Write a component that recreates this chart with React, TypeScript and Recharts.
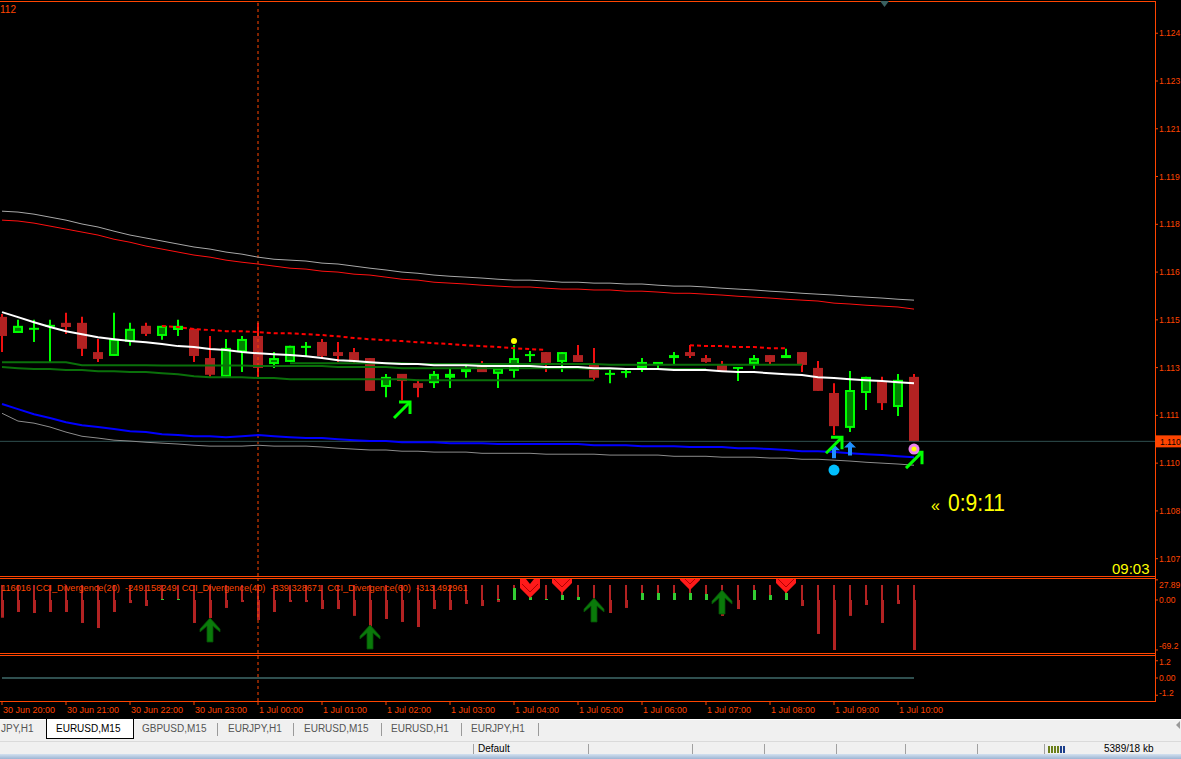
import React from 'react';
import { ComposedChart, Bar, Line, Scatter, XAxis, YAxis, ReferenceLine } from 'recharts';

const ORANGE = '#FF4500';
const FONT = '"Liberation Sans", Arial, sans-serif';
const W = 1181;
const X_DOMAIN: [number, number] = [-0.125, 72.0625];
const PRICE_DOMAIN: [number, number] = [1.10642, 1.12568];
const CCI_DOMAIN: [number, number] = [-73.36, 29.07];
const SIG_DOMAIN: [number, number] = [-1.6, 1.6];

// ---- time axis ----
const hourTicks = [0, 4, 8, 12, 16, 20, 24, 28, 32, 36, 40, 44, 48, 52, 56];
const timeLabels = ['30 Jun 20:00', '30 Jun 21:00', '30 Jun 22:00', '30 Jun 23:00', '1 Jul 00:00', '1 Jul 01:00', '1 Jul 02:00', '1 Jul 03:00', '1 Jul 04:00', '1 Jul 05:00', '1 Jul 06:00', '1 Jul 07:00', '1 Jul 08:00', '1 Jul 09:00', '1 Jul 10:00'];
const separatorIndex = 16;

// ---- price axis ----
const priceTicks = [1.1246, 1.123, 1.1214, 1.1198, 1.1182, 1.1166, 1.115, 1.1134, 1.1118, 1.1102, 1.1086, 1.107];
const currentPrice = 1.11093;

// ---- candles (EURUSD M15) ----
const open = [1.11510, 1.11456, 1.11470, 1.11480, 1.11490, 1.11490, 1.11392, 1.11379, 1.11426, 1.11480,
  1.11446, 1.11466, 1.11470, 1.11372, 1.11309, 1.11392, 1.11446, 1.11352, 1.11359, 1.11406,
  1.11426, 1.11392, 1.11392, 1.11372, 1.11275, 1.11319, 1.11288, 1.11288, 1.11306, 1.11325,
  1.11352, 1.11319, 1.11329, 1.11382, 1.11392, 1.11359, 1.11382, 1.11349, 1.11319, 1.11325,
  1.11339, 1.11352, 1.11372, 1.11392, 1.11372, 1.11352, 1.11339, 1.11352, 1.11382, 1.11372,
  1.11392, 1.11339, 1.11255, 1.11138, 1.11255, 1.11295, 1.11208, 1.11309];
const high = [1.11520, 1.11500, 1.11500, 1.11500, 1.11524, 1.11510, 1.11436, 1.11524, 1.11490, 1.11490,
  1.11480, 1.11500, 1.11470, 1.11446, 1.11436, 1.11446, 1.11490, 1.11392, 1.11413, 1.11426,
  1.11436, 1.11426, 1.11406, 1.11372, 1.11319, 1.11319, 1.11299, 1.11329, 1.11336, 1.11352,
  1.11362, 1.11339, 1.11416, 1.11396, 1.11392, 1.11392, 1.11416, 1.11406, 1.11336, 1.11336,
  1.11372, 1.11359, 1.11392, 1.11416, 1.11382, 1.11362, 1.11339, 1.11382, 1.11382, 1.11403,
  1.11392, 1.11362, 1.11288, 1.11329, 1.11309, 1.11309, 1.11319, 1.11319];
const low = [1.11392, 1.11456, 1.11426, 1.11359, 1.11453, 1.11379, 1.11359, 1.11379, 1.11413, 1.11446,
  1.11433, 1.11446, 1.11359, 1.11309, 1.11309, 1.11325, 1.11309, 1.11339, 1.11359, 1.11379,
  1.11372, 1.11359, 1.11352, 1.11262, 1.11241, 1.11231, 1.11241, 1.11272, 1.11272, 1.11306,
  1.11325, 1.11272, 1.11306, 1.11359, 1.11325, 1.11325, 1.11359, 1.11299, 1.11288, 1.11306,
  1.11325, 1.11339, 1.11352, 1.11372, 1.11356, 1.11329, 1.11295, 1.11336, 1.11352, 1.11372,
  1.11325, 1.11262, 1.11114, 1.11124, 1.11198, 1.11198, 1.11178, 1.11093];
const close = [1.11446, 1.11480, 1.11470, 1.11480, 1.11476, 1.11403, 1.11369, 1.11436, 1.11470, 1.11453,
  1.11480, 1.11480, 1.11379, 1.11316, 1.11406, 1.11436, 1.11339, 1.11372, 1.11413, 1.11413,
  1.11379, 1.11379, 1.11359, 1.11262, 1.11309, 1.11295, 1.11272, 1.11319, 1.11319, 1.11339,
  1.11325, 1.11339, 1.11372, 1.11382, 1.11356, 1.11392, 1.11359, 1.11306, 1.11319, 1.11325,
  1.11359, 1.11359, 1.11382, 1.11379, 1.11359, 1.11329, 1.11339, 1.11372, 1.11359, 1.11382,
  1.11349, 1.11262, 1.11144, 1.11265, 1.11309, 1.11221, 1.11299, 1.11093];

// ---- overlay lines ----
const upperGray = [1.11864, 1.11861, 1.11854, 1.11844, 1.11834, 1.11821, 1.11811, 1.11797, 1.11784, 1.11774,
  1.11764, 1.11754, 1.11744, 1.11737, 1.11727, 1.11720, 1.11710, 1.11703, 1.11700, 1.11697,
  1.11690, 1.11687, 1.11680, 1.11673, 1.11667, 1.11660, 1.11656, 1.11650, 1.11646, 1.11643,
  1.11640, 1.11636, 1.11633, 1.11633, 1.11630, 1.11626, 1.11626, 1.11623, 1.11623, 1.11620,
  1.11620, 1.11616, 1.11613, 1.11613, 1.11610, 1.11606, 1.11603, 1.11600, 1.11596, 1.11593,
  1.11589, 1.11586, 1.11583, 1.11579, 1.11576, 1.11573, 1.11569, 1.11566];
const upperRed = [1.11834, 1.11831, 1.11824, 1.11814, 1.11804, 1.11794, 1.11784, 1.11770, 1.11760, 1.11747,
  1.11737, 1.11727, 1.11717, 1.11710, 1.11700, 1.11693, 1.11687, 1.11680, 1.11673, 1.11670,
  1.11663, 1.11660, 1.11653, 1.11650, 1.11643, 1.11636, 1.11633, 1.11626, 1.11623, 1.11620,
  1.11616, 1.11613, 1.11610, 1.11610, 1.11606, 1.11603, 1.11603, 1.11600, 1.11600, 1.11596,
  1.11596, 1.11593, 1.11589, 1.11589, 1.11586, 1.11583, 1.11579, 1.11576, 1.11573, 1.11569,
  1.11566, 1.11563, 1.11556, 1.11553, 1.11549, 1.11546, 1.11543, 1.11536];
const lowerBlue = [1.11218, 1.11201, 1.11184, 1.11171, 1.11157, 1.11147, 1.11141, 1.11134, 1.11127, 1.11124,
  1.11117, 1.11114, 1.11110, 1.11110, 1.11107, 1.11110, 1.11114, 1.11110, 1.11107, 1.11104,
  1.11104, 1.11100, 1.11097, 1.11094, 1.11094, 1.11090, 1.11090, 1.11090, 1.11087, 1.11087,
  1.11087, 1.11084, 1.11084, 1.11084, 1.11084, 1.11084, 1.11084, 1.11080, 1.11080, 1.11080,
  1.11077, 1.11077, 1.11077, 1.11074, 1.11074, 1.11074, 1.11070, 1.11070, 1.11067, 1.11064,
  1.11060, 1.11060, 1.11057, 1.11053, 1.11050, 1.11047, 1.11043, 1.11040];
const lowerGray = [1.11187, 1.11161, 1.11154, 1.11141, 1.11124, 1.11110, 1.11104, 1.11097, 1.11094, 1.11090,
  1.11087, 1.11084, 1.11080, 1.11077, 1.11077, 1.11077, 1.11080, 1.11077, 1.11077, 1.11077,
  1.11074, 1.11070, 1.11067, 1.11064, 1.11064, 1.11060, 1.11060, 1.11057, 1.11057, 1.11057,
  1.11053, 1.11053, 1.11053, 1.11053, 1.11050, 1.11050, 1.11050, 1.11050, 1.11047, 1.11047,
  1.11047, 1.11047, 1.11043, 1.11043, 1.11043, 1.11040, 1.11040, 1.11040, 1.11037, 1.11037,
  1.11033, 1.11033, 1.11030, 1.11027, 1.11023, 1.11020, 1.11017, 1.11013];
const maWhite = [1.11526, 1.11509, 1.11492, 1.11476, 1.11462, 1.11452, 1.11442, 1.11435, 1.11429, 1.11425,
  1.11419, 1.11412, 1.11409, 1.11402, 1.11399, 1.11392, 1.11388, 1.11385, 1.11382, 1.11378,
  1.11372, 1.11365, 1.11362, 1.11358, 1.11355, 1.11352, 1.11352, 1.11348, 1.11348, 1.11348,
  1.11345, 1.11345, 1.11345, 1.11345, 1.11342, 1.11342, 1.11342, 1.11338, 1.11338, 1.11335,
  1.11335, 1.11335, 1.11332, 1.11332, 1.11332, 1.11328, 1.11325, 1.11325, 1.11321, 1.11318,
  1.11315, 1.11308, 1.11305, 1.11301, 1.11298, 1.11295, 1.11291, 1.11288];
const dashRed = [null, null, null, null, null, null, null, null, null, null,
  1.11479, 1.11476, 1.11469, 1.11466, 1.11462, 1.11462, 1.11459, 1.11455, 1.11455, 1.11452,
  1.11449, 1.11445, 1.11439, 1.11435, 1.11432, 1.11429, 1.11425, 1.11422, 1.11419, 1.11415,
  1.11412, 1.11409, 1.11405, 1.11402, 1.11399, null, null, null, null, null,
  null, null, null, 1.11415, 1.11412, 1.11412, 1.11409, 1.11409, 1.11405, 1.11405,
  null, null, null, null, null, null, null, null];
const green1 = [null, null, null, null, null, null, null, null, null, null,
  null, null, null, null, null, null, null, null, 1.11355, 1.11355,
  1.11355, 1.11355, 1.11355, 1.11355, 1.11355, 1.11355, 1.11352, 1.11352, 1.11352, 1.11352,
  1.11352, 1.11352, 1.11352, 1.11352, 1.11352, 1.11352, 1.11352, 1.11352, 1.11350, 1.11350,
  1.11350, 1.11350, 1.11350, 1.11350, 1.11350, 1.11350, 1.11350, 1.11350, 1.11350, 1.11350,
  1.11350, null, null, null, null, null, null, null];
const green2 = [1.11358, 1.11358, 1.11358, 1.11358, 1.11358, 1.11348, 1.11348, 1.11348, 1.11348, 1.11348,
  1.11347, 1.11347, 1.11347, 1.11347, 1.11347, 1.11347, 1.11345, 1.11345, 1.11345, 1.11345,
  1.11345, 1.11342, 1.11342, 1.11342, 1.11342, 1.11338, 1.11338, 1.11338, 1.11338, 1.11338,
  1.11338, 1.11338, 1.11338, 1.11338, 1.11338, 1.11338, 1.11338, 1.11335, 1.11335, 1.11335,
  1.11335, 1.11335, 1.11335, 1.11335, 1.11335, null, null, null, null, null,
  null, null, null, null, null, null, null, null];
const green3 = [1.11342, 1.11338, 1.11335, 1.11335, 1.11332, 1.11332, 1.11328, 1.11328, 1.11325, 1.11325,
  1.11321, 1.11318, 1.11311, 1.11308, 1.11308, 1.11308, 1.11305, 1.11305, 1.11301, 1.11301,
  1.11301, 1.11301, 1.11301, 1.11301, 1.11301, 1.11301, 1.11298, 1.11298, 1.11298, 1.11298,
  1.11298, 1.11298, 1.11298, 1.11298, 1.11298, 1.11298, 1.11298, 1.11298, null, null,
  null, null, null, null, null, null, null, null, null, null,
  null, null, null, null, null, null, null, null];

// ---- main-chart signal markers ----
const limeArrows = [{ i: 25, p: 1.11198 }, { i: 52, p: 1.11080 }, { i: 57, p: 1.11030 }];
const blueArrows = [{ i: 52, p: 1.11060 }, { i: 53, p: 1.11069 }];
const cyanDots = [{ i: 52, p: 1.10997 }];
const violetDots = [{ i: 57, p: 1.11067 }];
const yellowDots = [{ i: 32, p: 1.11429 }];

// ---- CCI_Divergence sub-window ----
const cciTop = [20.8, 20.8, 20.8, 20.8, 20.8, 20.8, 20.8, 20.8, 20.8, 20.8,
  20.8, 20.8, 20.8, 20.8, 20.8, 20.8, 20.8, 20.8, 20.8, 20.8,
  20.8, 20.8, 20.8, 20.8, 20.8, 20.8, 20.8, 20.8, 20.8, 20.8,
  20.8, 20.8, 20.8, 20.8, 20.8, 20.8, 20.8, 20.8, 20.8, 20.8,
  20.8, 20.8, 20.8, 20.8, 20.8, 20.8, 20.8, 20.8, 20.8, 20.8,
  20.8, 20.8, 20.8, 20.8, 20.8, 20.8, 20.8, 20.8];
const cciNeg = [-24.5, -16.6, -18, -16.6, -16.6, -31.8, -38.8, -16.6, -4.2, -8.3,
  0, 0, -31.8, -24.9, -11, -2.8, -27.7, -16.6, -2.8, -2.8,
  -12.5, -12.5, -22, -37.4, -26.3, -30.4, -37.4, -12.5, -13.8, -5.5,
  -8.3, -2.8, 0, 0, 0, 0, 0, -9.7, -18, -11,
  0, 0, 0, 0, 0, -22, -12.5, 0, 0, 0,
  -8.3, -47, -69.2, -22, -6.9, -31.8, -5.5, -69.2];
const cciPos = [0, 0, 0, 0, 0, 0, 0, 0, 0, 0,
  1.4, 1.4, 0, 0, 0, 0, 0, 0, 0, 0,
  0, 0, 0, 0, 0, 0, 0, 0, 0, 0,
  0, 1.4, 16.6, 4.2, 1.4, 6.9, 4.2, 0, 0, 0,
  9.7, 9.7, 9.7, 9.7, 8.3, 0, 0, 13.8, 6.9, 9.7,
  0, 0, 0, 0, 0, 0, 0, 0];
const cciUpArrows = [{ i: 13, v: -24.9 }, { i: 23, v: -34.6 }, { i: 37, v: 2.8 }, { i: 45, v: 13.8 }];
const cciDownMarks = [{ i: 33, v: 2.8 }, { i: 35, v: 9.7 }, { i: 43, v: 13.8 }, { i: 49, v: 9.7 }];
const cciTicks = [27.89, 0, -69.2];
const cciTickLabels = ['27.89', '0.00', '-69.2'];
const cciLegend = '116016  CCI_Divergence(20)  -249.158249  CCI_Divergence(40)  -339.328671  CCI_Divergence(60)  -313.492961';

// ---- third sub-window ----
const signalLine = [0, 0, 0, 0, 0, 0, 0, 0, 0, 0, 0, 0, 0, 0, 0, 0, 0, 0, 0, 0,
  0, 0, 0, 0, 0, 0, 0, 0, 0, 0, 0, 0, 0, 0, 0, 0, 0, 0, 0, 0,
  0, 0, 0, 0, 0, 0, 0, 0, 0, 0, 0, 0, 0, 0, 0, 0, 0, 0];
const sigTicks = [1.2, 0, -1.2];
const sigTickLabels = ['1.2', '0.00', '-1.2'];

// ---- terminal tabs ----
const tabs = [
  { label: 'JPY,H1', x: 1, active: false },
  { label: 'EURUSD,M15', x: 56, active: true },
  { label: 'GBPUSD,M15', x: 142, active: false },
  { label: 'EURJPY,H1', x: 228, active: false },
  { label: 'EURUSD,M15', x: 304, active: false },
  { label: 'EURUSD,H1', x: 391, active: false },
  { label: 'EURJPY,H1', x: 471, active: false },
];
const tabSeparators = [217, 293, 381, 461, 538];
const statusSeparators = [473, 588, 692, 764, 836, 905, 977, 1044];

// visible part of a 5-digit price label in the cut-off price scale
const scaleLabel = (v: number) => v.toFixed(5).slice(0, 5);

// ================= shapes =================
function CandleShape(props: any) {
  const { x, y, width, height, payload } = props;
  if (!payload) return null;
  const { open: o, close: c, high: h, low: l } = payload;
  const top = Math.min(y, y + height);
  const hh = Math.abs(height);
  const k = h - l > 0 ? hh / (h - l) : 0;
  const py = (v: number) => top + (h - v) * k;
  const cx = Math.round(x + width / 2);
  const bTop = py(Math.max(o, c));
  const bBot = py(Math.min(o, c));
  if (c > o) {
    return (
      <g>
        <line x1={cx} x2={cx} y1={top} y2={top + hh} stroke="#00FF00" strokeWidth={2} />
        <rect x={cx - 4} y={bTop + 1} width={8} height={Math.max(bBot - bTop - 2, 0)} fill="#008000" stroke="#00FF00" strokeWidth={2} />
      </g>
    );
  }
  if (c === o) {
    return (
      <g>
        <line x1={cx} x2={cx} y1={top} y2={top + hh} stroke="#00FF00" strokeWidth={2} />
        <line x1={cx - 5} x2={cx + 5} y1={bTop} y2={bTop} stroke="#00FF00" strokeWidth={2} />
      </g>
    );
  }
  return (
    <g>
      <line x1={cx} x2={cx} y1={top} y2={top + hh} stroke="#F01010" strokeWidth={2} />
      <rect x={cx - 5} y={bTop} width={10} height={Math.max(bBot - bTop, 1)} fill="#B22222" />
    </g>
  );
}

function CciShape(props: any) {
  const { x, y, width, height, payload } = props;
  if (!payload) return null;
  const top = Math.min(y, y + height);
  const hh = Math.abs(height);
  const span = payload.top - payload.neg;
  const k = span > 0 ? hh / span : 0;
  const y0 = top + payload.top * k;
  const cx = Math.round(x + width / 2);
  return (
    <g>
      <rect x={cx - 1} y={top} width={2} height={payload.top * k} fill="#B22222" />
      {payload.neg < 0 && <rect x={cx - 1} y={y0} width={3} height={-payload.neg * k} fill="#B22222" />}
      {payload.pos > 0 && <rect x={cx - 1} y={y0 - payload.pos * k} width={3} height={payload.pos * k} fill="#33CC33" />}
    </g>
  );
}

const LimeArrow = (p: any) => {
  const { cx, cy } = p;
  return (
    <g fill="none" stroke="#00FF00" strokeWidth={3}>
      <path d={`M${cx - 8},${cy + 8} L${cx + 7},${cy - 7}`} />
      <path d={`M${cx - 3},${cy - 8} L${cx + 8},${cy - 8} L${cx + 8},${cy + 4}`} />
    </g>
  );
};
const BlueArrow = (p: any) => {
  const { cx, cy } = p;
  return <path d={`M${cx},${cy - 7} L${cx + 6},${cy - 1} L${cx + 2},${cy - 1} L${cx + 2},${cy + 7} L${cx - 2},${cy + 7} L${cx - 2},${cy - 1} L${cx - 6},${cy - 1} Z`} fill="#1E90FF" />;
};
const CyanDot = (p: any) => <circle cx={p.cx} cy={p.cy} r={5.5} fill="#00BFFF" />;
const VioletDot = (p: any) => (
  <g>
    <circle cx={p.cx} cy={p.cy} r={5.5} fill="#EE82EE" />
    <circle cx={p.cx} cy={p.cy} r={2.5} fill="#FFFF00" />
  </g>
);
const YellowDot = (p: any) => <circle cx={p.cx} cy={p.cy} r={3} fill="#FFFF00" />;

const CciUpArrow = (p: any) => {
  const { cx, cy } = p;
  return <path d={`M${cx},${cy} L${cx + 10},${cy + 11} L${cx + 10},${cy + 14} L${cx + 3},${cy + 8} L${cx + 3},${cy + 24} L${cx - 3},${cy + 24} L${cx - 3},${cy + 8} L${cx - 10},${cy + 14} L${cx - 10},${cy + 11} Z`} fill="#0A7A0A" stroke="#065006" strokeWidth={0.8} />;
};
const CciDownMark = (p: any) => {
  const { cx, cy } = p;
  return (
    <g>
      <path d={`M${cx},${cy} L${cx - 10},${cy - 10} L${cx - 10},${cy - 19} L${cx - 4},${cy - 19} L${cx},${cy - 14} L${cx + 4},${cy - 19} L${cx + 10},${cy - 19} L${cx + 10},${cy - 10} Z`} fill="#FF1A1A" />
      <path d={`M${cx - 8},${cy - 14} L${cx},${cy - 6} L${cx + 8},${cy - 14}`} fill="none" stroke="#B00000" strokeWidth={1} />
    </g>
  );
};

const PriceTag = (props: any) => {
  const vb = props.viewBox || {};
  const x = (vb.x || 0) + (vb.width || 0) + 1;
  const y = vb.y || 0;
  return (
    <g>
      <rect x={x} y={y - 6} width={30} height={12} fill={ORANGE} />
      <text x={x + 4} y={y + 3.5} fontSize={8.5} fontFamily={FONT} fill="#000">{scaleLabel(currentPrice)}</text>
    </g>
  );
};

const TimeTick = (props: any) => {
  const { x, y, payload } = props;
  const idx = hourTicks.indexOf(payload.value);
  return (
    <text x={x + 1} y={y + 6} fill={ORANGE} fontSize={9} fontFamily={FONT} textAnchor="start">
      {timeLabels[idx]}
    </text>
  );
};

const makeSideTick = (ticks: number[], labels: string[], shifts: number[]) => (props: any) => {
  const { x, y, payload } = props;
  const idx = ticks.indexOf(payload.value);
  return (
    <text x={x} y={y + 3 + shifts[idx]} fill={ORANGE} fontSize={8.5} fontFamily={FONT} textAnchor="start">
      {labels[idx]}
    </text>
  );
};
const CciTick = makeSideTick(cciTicks, cciTickLabels, [5, 0, -4]);
const SigTick = makeSideTick(sigTicks, sigTickLabels, [1, 0, -2]);

export default function App() {
  const mainData = open.map((o, i) => ({
    i, open: o, high: high[i], low: low[i], close: close[i],
    ug: upperGray[i], ur: upperRed[i], lb: lowerBlue[i], lg: lowerGray[i],
    ma: maWhite[i], dr: dashRed[i], g1: green1[i], g2: green2[i], g3: green3[i],
  }));
  const cciData = cciNeg.map((n, i) => ({ i, neg: n, top: cciTop[i], pos: cciPos[i] }));
  const sigData = signalLine.map((v, i) => ({ i, v }));

  const line = (key: string, color: string, width = 1, dash?: string) => (
    <Line type="linear" dataKey={key} stroke={color} strokeWidth={width} strokeDasharray={dash} dot={false} activeDot={false} isAnimationActive={false} connectNulls={false} />
  );

  return (
    <div style={{ position: 'absolute', left: 0, top: 0, width: W, height: 759, overflow: 'hidden', background: '#000', fontFamily: FONT }}>
      {/* main price window */}
      <div style={{ position: 'absolute', left: 0, top: 0 }}>
        <ComposedChart width={W} height={578} data={mainData} margin={{ top: 1, right: 0, bottom: 2, left: 0 }}>
          <XAxis type="number" dataKey="i" domain={X_DOMAIN} allowDataOverflow hide />
          <YAxis orientation="right" width={26} domain={PRICE_DOMAIN} allowDataOverflow ticks={priceTicks} interval={0}
            tickFormatter={scaleLabel} tick={{ fill: ORANGE, fontSize: 8.5, fontFamily: FONT }}
            tickLine={{ stroke: ORANGE }} tickSize={3} tickMargin={1} axisLine={false} />
          <ReferenceLine x={separatorIndex} stroke={ORANGE} strokeDasharray="3 3" />
          <ReferenceLine y={currentPrice} stroke="#2F4F4F" label={(p: any) => <PriceTag {...p} />} />
          {line('ug', '#A8A8A8')}
          {line('ur', '#FF1010')}
          {line('lg', '#8C8C8C')}
          {line('lb', '#0000FF', 2)}
          {line('g3', '#0A700A', 2)}
          {line('g2', '#0A700A', 2)}
          {line('g1', '#0A700A', 2)}
          {line('dr', '#FF0000', 2, '4 3')}
          <Bar dataKey={(d: any) => [d.low, d.high]} shape={CandleShape} barSize={10} isAnimationActive={false} />
          {line('ma', '#FFFFFF', 2)}
          <Scatter data={yellowDots} dataKey="p" shape={YellowDot} isAnimationActive={false} />
          <Scatter data={cyanDots} dataKey="p" shape={CyanDot} isAnimationActive={false} />
          <Scatter data={blueArrows} dataKey="p" shape={BlueArrow} isAnimationActive={false} />
          <Scatter data={limeArrows} dataKey="p" shape={LimeArrow} isAnimationActive={false} />
          <Scatter data={violetDots} dataKey="p" shape={VioletDot} isAnimationActive={false} />
        </ComposedChart>
      </div>

      {/* CCI divergence window */}
      <div style={{ position: 'absolute', left: 0, top: 579 }}>
        <ComposedChart width={W} height={74} data={cciData} margin={{ top: 0, right: 0, bottom: 0, left: 0 }}>
          <XAxis type="number" dataKey="i" domain={X_DOMAIN} allowDataOverflow hide />
          <YAxis orientation="right" width={26} domain={CCI_DOMAIN} allowDataOverflow ticks={cciTicks} interval={0}
            tick={<CciTick />} tickLine={{ stroke: ORANGE }} tickSize={3} tickMargin={1} axisLine={false} />
          <ReferenceLine x={separatorIndex} stroke={ORANGE} strokeDasharray="3 3" />
          <Bar dataKey={(d: any) => [d.neg, d.top]} shape={CciShape} barSize={4} isAnimationActive={false} />
          <Scatter data={cciUpArrows} dataKey="v" shape={CciUpArrow} isAnimationActive={false} />
          <Scatter data={cciDownMarks} dataKey="v" shape={CciDownMark} isAnimationActive={false} />
        </ComposedChart>
      </div>

      {/* third window with time axis */}
      <div style={{ position: 'absolute', left: 0, top: 655 }}>
        <ComposedChart width={W} height={64} data={sigData} margin={{ top: 0, right: 0, bottom: 0, left: 0 }}>
          <XAxis type="number" dataKey="i" domain={X_DOMAIN} allowDataOverflow ticks={hourTicks} interval={0}
            height={18} tick={<TimeTick />} tickLine={{ stroke: ORANGE }} tickSize={4} tickMargin={2} axisLine={false} />
          <YAxis orientation="right" width={26} domain={SIG_DOMAIN} allowDataOverflow ticks={sigTicks} interval={0}
            tick={<SigTick />} tickLine={{ stroke: ORANGE }} tickSize={3} tickMargin={1} axisLine={false} />
          <ReferenceLine x={separatorIndex} stroke={ORANGE} strokeDasharray="3 3" />
          {line('v', '#2F4F4F', 2)}
        </ComposedChart>
      </div>

      {/* frame, captions */}
      <svg width={W} height={720} style={{ position: 'absolute', left: 0, top: 0, pointerEvents: 'none' }}>
        <g stroke={ORANGE} strokeWidth={1} fill="none">
          <line x1={0} x2={1155.5} y1={1.5} y2={1.5} />
          <line x1={0} x2={1155.5} y1={576.5} y2={576.5} />
          <line x1={0} x2={1155.5} y1={578.5} y2={578.5} />
          <line x1={0} x2={1155.5} y1={653.5} y2={653.5} />
          <line x1={0} x2={1155.5} y1={655.5} y2={655.5} />
          <line x1={0} x2={1155.5} y1={701.5} y2={701.5} />
          <line x1={1155.5} x2={1155.5} y1={1} y2={702} />
        </g>
        <polygon points="880,1 889,1 884.5,7" fill="#3A6060" />
        <text x={0} y={13} fill={ORANGE} fontSize={10} fontFamily={FONT}>112</text>
        <text x={1} y={591} fill={ORANGE} fontSize={9.2} fontFamily={FONT} style={{ whiteSpace: 'pre' }}>{cciLegend}</text>
        <text x={931} y={511} fill="#FFFF00" fontFamily={FONT}>
          <tspan fontSize={16}>«</tspan>
          <tspan x={948} fontSize={23} textLength={57} lengthAdjust="spacingAndGlyphs">0:9:11</tspan>
        </text>
        <text x={1112} y={574} fill="#FFFF00" fontSize={15} fontFamily={FONT}>09:03</text>
      </svg>

      {/* terminal tab strip */}
      <div style={{ position: 'absolute', left: 0, top: 719, width: W, height: 22, background: '#F0F0F0', borderTop: '1px solid #FFFFFF' }} />
      <div style={{ position: 'absolute', left: 46, top: 719, width: 86, height: 19, background: '#FFFFFF', border: '1px solid #000', borderTop: 'none' }} />
      {tabs.map((t, k) => (
        <div key={k} style={{ position: 'absolute', left: t.x, top: 723, fontSize: 10, fontFamily: FONT, color: t.active ? '#000' : '#555', whiteSpace: 'nowrap', lineHeight: '12px' }}>{t.label}</div>
      ))}
      {tabSeparators.map((sx, k) => (
        <div key={k} style={{ position: 'absolute', left: sx, top: 723, width: 1, height: 13, background: '#9A9A9A' }} />
      ))}
      <div style={{ position: 'absolute', left: 1176, top: 721, width: 0, height: 0, borderTop: '4px solid transparent', borderBottom: '4px solid transparent', borderRight: '4px solid #999' }} />

      {/* status bar */}
      <div style={{ position: 'absolute', left: 0, top: 741, width: W, height: 18, background: '#F0F0F0', borderTop: '1px solid #DADADA' }} />
      {statusSeparators.map((sx, k) => (
        <div key={k} style={{ position: 'absolute', left: sx, top: 744, width: 1, height: 10, background: '#A0A0A0' }} />
      ))}
      <div style={{ position: 'absolute', left: 0, top: 754, width: W, height: 5, background: 'linear-gradient(#D3E1F0, #9DB5D3)' }} />
      <div style={{ position: 'absolute', left: 478, top: 743, fontSize: 10, fontFamily: FONT, color: '#000', lineHeight: '11px' }}>Default</div>
      <div style={{ position: 'absolute', left: 1104, top: 743, fontSize: 10, fontFamily: FONT, color: '#000', lineHeight: '11px' }}>5389/18 kb</div>
      {[0, 3, 6, 9, 12, 15].map((dx, k) => (
        <div key={k} style={{ position: 'absolute', left: 1048 + dx, top: 746, width: 2, height: 7, background: k < 4 ? '#6B7F1A' : '#1C3F8C' }} />
      ))}
    </div>
  );
}
